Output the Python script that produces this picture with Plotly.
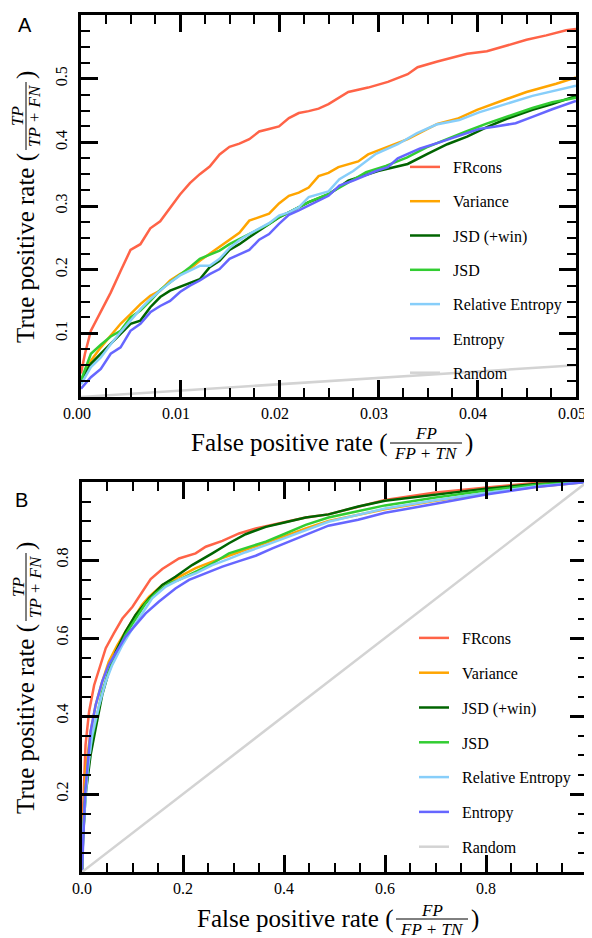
import plotly.graph_objects as go

# window is 592x938; the page body has an 8px margin, so the figure starts 8px in
OFF = 8
W, H = 592, 938 - OFF

# ---------------- Panel A data (zoom on FPR 0..0.05) ----------------
frcons_a_x = [0, 0.0004, 0.001, 0.002, 0.003, 0.004, 0.005, 0.006, 0.007, 0.008, 0.009, 0.010,
              0.011, 0.012, 0.013, 0.014, 0.015, 0.016, 0.017, 0.018, 0.019, 0.020, 0.021, 0.022,
              0.023, 0.024, 0.025, 0.027, 0.029, 0.031, 0.033, 0.034, 0.036, 0.039, 0.041, 0.043,
              0.045, 0.047, 0.049, 0.050]
frcons_a_y = [0.037, 0.068, 0.104, 0.133, 0.164, 0.198, 0.231, 0.240, 0.265, 0.276, 0.298, 0.318,
              0.336, 0.350, 0.362, 0.381, 0.393, 0.398, 0.405, 0.417, 0.421, 0.425, 0.438, 0.446,
              0.449, 0.453, 0.460, 0.479, 0.486, 0.495, 0.507, 0.518, 0.527, 0.539, 0.543, 0.552,
              0.561, 0.568, 0.576, 0.578]

variance_a_x = [0, 0.001, 0.002, 0.003, 0.004, 0.005, 0.006, 0.007, 0.008, 0.009, 0.010, 0.011,
                0.012, 0.013, 0.014, 0.015, 0.016, 0.017, 0.018, 0.019, 0.020, 0.021, 0.022, 0.023,
                0.024, 0.025, 0.026, 0.028, 0.029, 0.031, 0.033, 0.035, 0.036, 0.038, 0.040, 0.043,
                0.045, 0.048, 0.050]
variance_a_y = [0.023, 0.057, 0.078, 0.096, 0.115, 0.130, 0.146, 0.159, 0.167, 0.183, 0.193, 0.201,
                0.214, 0.225, 0.236, 0.248, 0.258, 0.277, 0.282, 0.288, 0.304, 0.316, 0.321, 0.329,
                0.347, 0.352, 0.361, 0.370, 0.381, 0.393, 0.405, 0.421, 0.429, 0.437, 0.451, 0.468,
                0.479, 0.492, 0.502]

jsdwin_a_x = [0, 0.001, 0.002, 0.003, 0.004, 0.005, 0.006, 0.007, 0.008, 0.009, 0.010, 0.011,
              0.012, 0.013, 0.014, 0.015, 0.016, 0.017, 0.018, 0.019, 0.020, 0.021, 0.023, 0.025,
              0.027, 0.030, 0.033, 0.035, 0.037, 0.039, 0.041, 0.043, 0.0456, 0.0476, 0.050]
jsdwin_a_y = [0.026, 0.052, 0.068, 0.083, 0.099, 0.115, 0.120, 0.141, 0.157, 0.167, 0.173, 0.179,
              0.185, 0.204, 0.214, 0.231, 0.240, 0.251, 0.261, 0.272, 0.282, 0.290, 0.306, 0.318,
              0.340, 0.355, 0.366, 0.382, 0.397, 0.409, 0.424, 0.437, 0.451, 0.460, 0.473]

jsd_a_x = [0, 0.001, 0.002, 0.003, 0.004, 0.005, 0.006, 0.007, 0.008, 0.009, 0.010, 0.011,
           0.012, 0.013, 0.014, 0.015, 0.016, 0.017, 0.018, 0.019, 0.020, 0.021, 0.023, 0.025,
           0.0268, 0.0288, 0.0308, 0.0329, 0.0349, 0.0369, 0.0389, 0.0409, 0.0429, 0.0456,
           0.0476, 0.050]
jsd_a_y = [0.026, 0.068, 0.082, 0.095, 0.104, 0.125, 0.136, 0.151, 0.168, 0.180, 0.191, 0.204,
           0.217, 0.223, 0.230, 0.240, 0.248, 0.255, 0.264, 0.272, 0.283, 0.290, 0.306, 0.319,
           0.335, 0.353, 0.363, 0.376, 0.392, 0.405, 0.417, 0.429, 0.440, 0.454, 0.463, 0.470]

relent_a_x = [0, 0.001, 0.002, 0.003, 0.004, 0.005, 0.006, 0.007, 0.008, 0.009, 0.010, 0.011,
              0.012, 0.013, 0.014, 0.015, 0.016, 0.017, 0.018, 0.019, 0.020, 0.021, 0.022, 0.023,
              0.025, 0.0261, 0.0275, 0.0298, 0.032, 0.0339, 0.0359, 0.0382, 0.0402, 0.0429,
              0.0456, 0.050]
relent_a_y = [0.020, 0.047, 0.062, 0.083, 0.102, 0.120, 0.138, 0.154, 0.167, 0.180, 0.191, 0.198,
              0.206, 0.206, 0.217, 0.234, 0.246, 0.256, 0.264, 0.273, 0.285, 0.290, 0.298, 0.314,
              0.323, 0.342, 0.355, 0.382, 0.397, 0.414, 0.428, 0.435, 0.447, 0.460, 0.473, 0.489]

entropy_a_x = [0, 0.001, 0.002, 0.003, 0.004, 0.005, 0.006, 0.007, 0.008, 0.009, 0.010, 0.011,
               0.012, 0.013, 0.014, 0.015, 0.016, 0.017, 0.018, 0.019, 0.020, 0.021, 0.022, 0.023,
               0.025, 0.0261, 0.0275, 0.0298, 0.031, 0.032, 0.0342, 0.0362, 0.0382, 0.0402,
               0.0419, 0.0439, 0.0456, 0.0476, 0.050]
entropy_a_y = [0.013, 0.031, 0.044, 0.068, 0.078, 0.104, 0.115, 0.133, 0.143, 0.151, 0.165, 0.175,
               0.183, 0.193, 0.201, 0.217, 0.224, 0.231, 0.247, 0.256, 0.272, 0.286, 0.293, 0.301,
               0.316, 0.332, 0.340, 0.355, 0.361, 0.375, 0.390, 0.400, 0.410, 0.421, 0.425, 0.430,
               0.440, 0.452, 0.465]

random_x = [0, 1]
random_y = [0, 1]

# ---------------- Panel B data (full ROC) ----------------
frcons_b_x = [0, 0.002, 0.007, 0.014, 0.024, 0.034, 0.047, 0.063, 0.080, 0.100, 0.119, 0.136,
              0.159, 0.192, 0.225, 0.245, 0.278, 0.311, 0.344, 0.390, 0.443, 0.488, 0.6, 0.7,
              0.8, 0.9, 1.0]
frcons_b_y = [0, 0.155, 0.326, 0.411, 0.479, 0.522, 0.574, 0.612, 0.650, 0.680, 0.719, 0.751,
              0.777, 0.804, 0.817, 0.834, 0.849, 0.868, 0.881, 0.894, 0.909, 0.917, 0.954, 0.973,
              0.986, 0.998, 1.0]

variance_b_x = [0, 0.002, 0.007, 0.017, 0.027, 0.040, 0.053, 0.070, 0.086, 0.119, 0.133, 0.159,
                0.192, 0.225, 0.258, 0.291, 0.324, 0.364, 0.403, 0.443, 0.488, 0.6, 0.7, 0.8,
                0.9, 1.0]
variance_b_y = [0, 0.112, 0.257, 0.360, 0.428, 0.488, 0.539, 0.582, 0.616, 0.685, 0.706, 0.736,
                0.757, 0.779, 0.796, 0.811, 0.826, 0.843, 0.862, 0.881, 0.900, 0.930, 0.952, 0.971,
                0.988, 1.0]

jsdwin_b_x = [0, 0.002, 0.007, 0.017, 0.027, 0.040, 0.053, 0.067, 0.086, 0.106, 0.133, 0.159,
              0.185, 0.218, 0.258, 0.291, 0.324, 0.364, 0.403, 0.443, 0.488, 0.547, 0.6, 0.7,
              0.8, 0.9, 1.0]
jsdwin_b_y = [0, 0.086, 0.197, 0.300, 0.368, 0.454, 0.514, 0.565, 0.616, 0.659, 0.702, 0.736,
              0.757, 0.787, 0.817, 0.843, 0.866, 0.885, 0.897, 0.909, 0.917, 0.937, 0.952, 0.967,
              0.983, 0.995, 1.0]

jsd_b_x = [0, 0.002, 0.007, 0.017, 0.027, 0.040, 0.053, 0.067, 0.086, 0.106, 0.126, 0.146,
           0.172, 0.192, 0.225, 0.258, 0.291, 0.324, 0.364, 0.403, 0.443, 0.488, 0.547, 0.6,
           0.7, 0.8, 0.9, 1.0]
jsd_b_y = [0, 0.086, 0.214, 0.326, 0.385, 0.462, 0.514, 0.556, 0.608, 0.650, 0.689, 0.715,
           0.740, 0.749, 0.770, 0.791, 0.817, 0.830, 0.847, 0.868, 0.890, 0.909, 0.926, 0.940,
           0.960, 0.978, 0.993, 1.0]

relent_b_x = [0, 0.002, 0.011, 0.020, 0.034, 0.047, 0.060, 0.080, 0.100, 0.119, 0.139, 0.166,
              0.192, 0.225, 0.258, 0.291, 0.324, 0.364, 0.403, 0.443, 0.488, 0.6, 0.7, 0.8,
              0.9, 1.0]
relent_b_y = [0, 0.103, 0.257, 0.351, 0.428, 0.488, 0.531, 0.582, 0.625, 0.663, 0.702, 0.732,
              0.749, 0.766, 0.787, 0.803, 0.820, 0.838, 0.857, 0.877, 0.898, 0.932, 0.953, 0.972,
              0.989, 1.0]

entropy_b_x = [0, 0.002, 0.006, 0.011, 0.017, 0.027, 0.040, 0.053, 0.067, 0.086, 0.106, 0.126,
               0.152, 0.185, 0.212, 0.245, 0.278, 0.311, 0.344, 0.377, 0.410, 0.449, 0.488,
               0.547, 0.6, 0.7, 0.8, 0.9, 1.0]
entropy_b_y = [0, 0.069, 0.197, 0.274, 0.360, 0.428, 0.488, 0.531, 0.561, 0.603, 0.633, 0.663,
               0.693, 0.727, 0.749, 0.766, 0.783, 0.797, 0.811, 0.830, 0.847, 0.868, 0.888,
               0.903, 0.921, 0.944, 0.968, 0.987, 1.0]

names = ["FRcons", "Variance", "JSD (+win)", "JSD", "Relative Entropy", "Entropy", "Random"]
colors = ["#ff6347", "#ffa500", "#006400", "#32cd32", "#87cefa", "#6666ff", "#d3d3d3"]

a_x = [frcons_a_x, variance_a_x, jsdwin_a_x, jsd_a_x, relent_a_x, entropy_a_x, random_x]
a_y = [frcons_a_y, variance_a_y, jsdwin_a_y, jsd_a_y, relent_a_y, entropy_a_y, random_y]
b_x = [frcons_b_x, variance_b_x, jsdwin_b_x, jsd_b_x, relent_b_x, entropy_b_x, random_x]
b_y = [frcons_b_y, variance_b_y, jsdwin_b_y, jsd_b_y, relent_b_y, entropy_b_y, random_y]

a_xticks = [0, 0.01, 0.02, 0.03, 0.04, 0.05]
a_xlabels = ["0.00", "0.01", "0.02", "0.03", "0.04", "0.05"]
a_yticks = [0.1, 0.2, 0.3, 0.4, 0.5]
a_ylabels = ["0.1", "0.2", "0.3", "0.4", "0.5"]
b_xticks = [0, 0.2, 0.4, 0.6, 0.8]
b_xlabels = ["0.0", "0.2", "0.4", "0.6", "0.8"]
b_yticks = [0.2, 0.4, 0.6, 0.8]
b_ylabels = ["0.2", "0.4", "0.6", "0.8"]

SERIF = "Liberation Serif, Times New Roman, DejaVu Serif, serif"
SANS = "Liberation Sans, Arial, DejaVu Sans, sans-serif"
NBSP = "\u00a0\u00a0"


def px(v):
    return (v - OFF) / W


def py(v):
    return 1 - (v - OFF) / H


fig = go.Figure()
for i, (nm, c) in enumerate(zip(names, colors)):
    fig.add_trace(go.Scatter(x=a_x[i], y=a_y[i], mode="lines", name=NBSP + nm,
                             line=dict(color=c, width=2.5), xaxis="x", yaxis="y",
                             legend="legend", legendgroup="a%d" % i))
for i, (nm, c) in enumerate(zip(names, colors)):
    fig.add_trace(go.Scatter(x=b_x[i], y=b_y[i], mode="lines", name=NBSP + nm,
                             line=dict(color=c, width=2.5), xaxis="x2", yaxis="y2",
                             legend="legend2", legendgroup="b%d" % i))


def axis_style(rng, dom, anchor, tickvals, ticktext, minor_dtick, vertical, shift=0):
    d = dict(
        range=rng, domain=dom, anchor=anchor, showgrid=False, zeroline=False,
        automargin=False, ticklabeloverflow="allow",
        showline=True, linecolor="black", linewidth=2.5, mirror="ticks",
        ticks="inside", ticklen=17, tickwidth=2.5, tickcolor="black",
        tickmode="array", tickvals=tickvals, ticktext=ticktext,
        tickfont=dict(family=SERIF, size=16, color="black"),
        tickangle=-90 if vertical else 0,
        minor=dict(ticks="inside", ticklen=9, tickwidth=2, tickcolor="black",
                   tickmode="linear", tick0=0, dtick=minor_dtick, showgrid=False),
        fixedrange=True,
    )
    if vertical:
        d["ticklabelstandoff"] = 5
    if shift:
        d["ticklabelshift"] = shift
    return d


layout = dict(
    width=W, height=H, margin=dict(l=0, r=0, t=0, b=0),
    paper_bgcolor="white", plot_bgcolor="white",
    font=dict(family=SERIF, size=16, color="black"),
    xaxis=axis_style([0, 0.05], [px(81), px(576)], "y", a_xticks, a_xlabels, 0.0025, False, -4),
    yaxis=axis_style([0, 0.6], [py(397), py(15)], "x", a_yticks, a_ylabels, 0.025, True),
    xaxis2=axis_style([0, 1], [px(82), px(587)], "y2", b_xticks, b_xlabels, 0.05, False),
    yaxis2=axis_style([0, 1], [py(872), py(482)], "x2", b_yticks, b_ylabels, 0.05, True),
    legend=dict(x=px(405), y=py(150), xanchor="left", yanchor="top",
                bgcolor="rgba(0,0,0,0)", font=dict(family=SERIF, size=16, color="black"),
                tracegroupgap=10.5),
    legend2=dict(x=px(414), y=py(621), xanchor="left", yanchor="top",
                 bgcolor="rgba(0,0,0,0)", font=dict(family=SERIF, size=16, color="black"),
                 tracegroupgap=11),
)
fig.update_layout(**layout)

annotations = []
shapes = []
TSIZE = 25
FSIZE = 17


def htitle(main, num, den, frac_left, frac_right, cy):
    fc = (frac_left + frac_right) / 2
    annotations.append(dict(text=main, x=px(frac_left - 1), y=py(cy), xref="paper", yref="paper",
                            xanchor="right", yanchor="middle", showarrow=False,
                            font=dict(family=SERIF, size=TSIZE)))
    annotations.append(dict(text="<i>%s</i>" % num, x=px(fc), y=py(cy - 9), xref="paper", yref="paper",
                            xanchor="center", yanchor="middle", showarrow=False,
                            font=dict(family=SERIF, size=FSIZE)))
    annotations.append(dict(text="<i>%s</i>" % den, x=px(fc), y=py(cy + 10), xref="paper", yref="paper",
                            xanchor="center", yanchor="middle", showarrow=False,
                            font=dict(family=SERIF, size=FSIZE)))
    annotations.append(dict(text=")", x=px(frac_right + 1), y=py(cy), xref="paper", yref="paper",
                            xanchor="left", yanchor="middle", showarrow=False,
                            font=dict(family=SERIF, size=TSIZE)))
    shapes.append(dict(type="line", xref="paper", yref="paper", x0=px(frac_left), x1=px(frac_right),
                       y0=py(cy), y1=py(cy), line=dict(color="black", width=1)))


def vtitle(main, num, den, frac_bottom, frac_top, cx):
    fc = (frac_bottom + frac_top) / 2
    annotations.append(dict(text=main, x=px(cx), y=py(frac_bottom + 1), xref="paper", yref="paper",
                            xanchor="center", yanchor="top", showarrow=False, textangle=-90,
                            font=dict(family=SERIF, size=TSIZE)))
    annotations.append(dict(text="<i>%s</i>" % num, x=px(cx - 8), y=py(fc), xref="paper", yref="paper",
                            xanchor="center", yanchor="middle", showarrow=False, textangle=-90,
                            font=dict(family=SERIF, size=FSIZE)))
    annotations.append(dict(text="<i>%s</i>" % den, x=px(cx + 9), y=py(fc), xref="paper", yref="paper",
                            xanchor="center", yanchor="middle", showarrow=False, textangle=-90,
                            font=dict(family=SERIF, size=FSIZE)))
    annotations.append(dict(text=")", x=px(cx), y=py(frac_top - 1), xref="paper", yref="paper",
                            xanchor="center", yanchor="bottom", showarrow=False, textangle=-90,
                            font=dict(family=SERIF, size=TSIZE)))
    shapes.append(dict(type="line", xref="paper", yref="paper", x0=px(cx), x1=px(cx),
                       y0=py(frac_bottom), y1=py(frac_top), line=dict(color="black", width=1)))


htitle("False positive rate (", "FP", "FP + TN", 390, 462, 443)
vtitle("True positive rate (", "TP", "TP + FN", 150, 82, 26)
htitle("False positive rate (", "FP", "FP + TN", 396, 468, 919)
vtitle("True positive rate (", "TP", "TP + FN", 621, 553, 26)

annotations.append(dict(text="A", x=px(25), y=py(25), xref="paper", yref="paper",
                        xanchor="center", yanchor="middle", showarrow=False,
                        font=dict(family=SANS, size=20, color="black")))
annotations.append(dict(text="B", x=px(21), y=py(500), xref="paper", yref="paper",
                        xanchor="center", yanchor="middle", showarrow=False,
                        font=dict(family=SANS, size=20, color="black")))

fig.update_layout(annotations=annotations, shapes=shapes)
fig.write_html("out.html")
